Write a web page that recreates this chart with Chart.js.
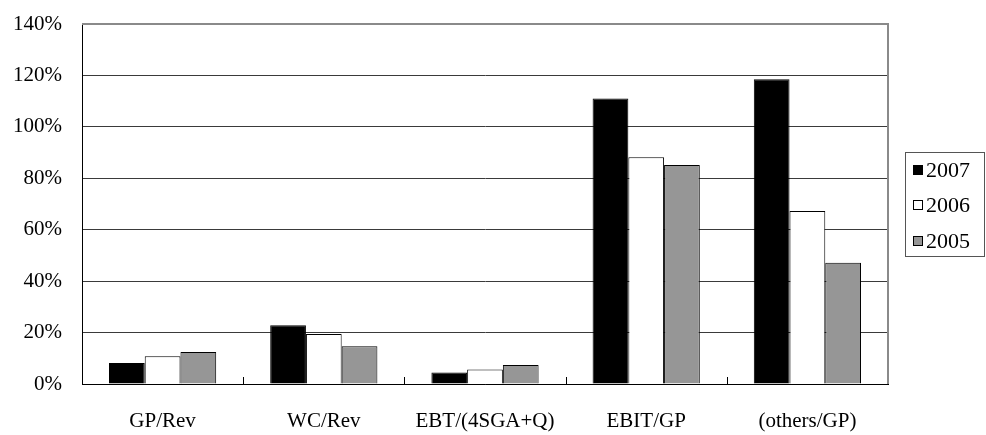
<!DOCTYPE html>
<html>
<head>
<meta charset="utf-8">
<script src="https://cdn.jsdelivr.net/npm/chart.js@4/dist/chart.umd.min.js"></script>
<style>
  html, body { margin: 0; padding: 0; background: #fff; }
  #wrap { width: 986px; height: 435px; }
</style>
</head>
<body>
<div id="wrap"><canvas id="c" width="986" height="435"></canvas></div>
<script>
// Ratio categories and yearly values (percent)
const categories = ['GP/Rev', 'WC/Rev', 'EBT/(4SGA+Q)', 'EBIT/GP', '(others/GP)'];
const years = ['2007', '2006', '2005'];
const values2007 = [8.2, 22.8, 4.5, 111.0, 118.5];
const values2006 = [10.8, 19.4, 5.6, 88.2, 67.3];
const values2005 = [12.4, 14.7, 7.4, 85.2, 47.2];
const yTicks = [0, 20, 40, 60, 80, 100, 120, 140];

const fills = ['#000000', '#ffffff', '#969696'];
const FONT = '"Liberation Serif", "DejaVu Serif", serif';

// Frame on top/right plus short category ticks rising from the x axis
const framePlugin = {
  id: 'frame',
  afterDatasetsDraw(chart) {
    const { ctx, chartArea: a, scales } = chart;
    ctx.save();
    ctx.strokeStyle = '#8a8a8a';
    ctx.lineWidth = 2;
    ctx.beginPath();
    ctx.moveTo(a.left, a.top);
    ctx.lineTo(a.right, a.top);
    ctx.lineTo(a.right, a.bottom);
    ctx.stroke();
    ctx.strokeStyle = '#000';
    ctx.lineWidth = 1;
    const x = scales.x;
    const n = categories.length;
    const step = (x.right - x.left) / n;
    ctx.beginPath();
    for (let i = 1; i < n; i++) {
      const px = Math.round(x.left + i * step) + 0.5;
      ctx.moveTo(px, a.bottom);
      ctx.lineTo(px, a.bottom - 7);
    }
    ctx.stroke();
    ctx.restore();
  }
};

// Boxed legend to the right of the plot
const legendPlugin = {
  id: 'boxLegend',
  afterDraw(chart) {
    const { ctx } = chart;
    const left = 905, top = 152, right = 985, bottom = 257;
    ctx.save();
    ctx.strokeStyle = '#555';
    ctx.lineWidth = 1;
    ctx.strokeRect(left + 0.5, top + 0.5, right - left - 1, bottom - top - 1);
    ctx.font = '22px ' + FONT;
    ctx.textBaseline = 'middle';
    ctx.fillStyle = '#000';
    const rows = [170, 205, 241];
    chart.data.datasets.forEach((ds, i) => {
      const cy = rows[i];
      ctx.fillStyle = ds.backgroundColor;
      ctx.fillRect(913, cy - 5, 10, 10);
      ctx.strokeStyle = '#000';
      ctx.strokeRect(913.5, cy - 4.5, 9, 9);
      ctx.fillStyle = '#000';
      ctx.fillText(ds.label, 926, cy + 1);
    });
    ctx.restore();
  }
};

new Chart(document.getElementById('c'), {
  type: 'bar',
  data: {
    labels: categories,
    datasets: [values2007, values2006, values2005].map((vals, i) => ({
      label: years[i],
      data: vals,
      backgroundColor: fills[i],
      borderColor: '#000',
      borderWidth: 1,
      barPercentage: 1.0,
      categoryPercentage: 0.665
    }))
  },
  options: {
    responsive: false,
    animation: false,
    layout: { padding: { top: 24, right: 98, left: 0, bottom: 0 } },
    plugins: {
      legend: { display: false },
      tooltip: { enabled: false }
    },
    scales: {
      x: {
        grid: { display: false, drawTicks: false },
        border: { color: '#000', width: 1 },
        ticks: { color: '#000', font: { family: FONT, size: 21 }, padding: 25, maxRotation: 0 },
        afterFit(s) { s.height = 51; s.paddingLeft = 0; s.paddingRight = 0; }
      },
      y: {
        min: 0,
        max: 140,
        afterBuildTicks(s) { s.ticks = yTicks.map(v => ({ value: v })); },
        grid: { color: '#3a3a3a', lineWidth: 1, drawTicks: false },
        border: { color: '#000', width: 1 },
        ticks: {
          color: '#000',
          font: { family: FONT, size: 21 },
          padding: 20,
          callback: v => v + '%'
        },
        afterFit(s) { s.width = 82; s.paddingTop = 0; s.paddingBottom = 0; }
      }
    }
  },
  plugins: [framePlugin, legendPlugin]
});
</script>
</body>
</html>
